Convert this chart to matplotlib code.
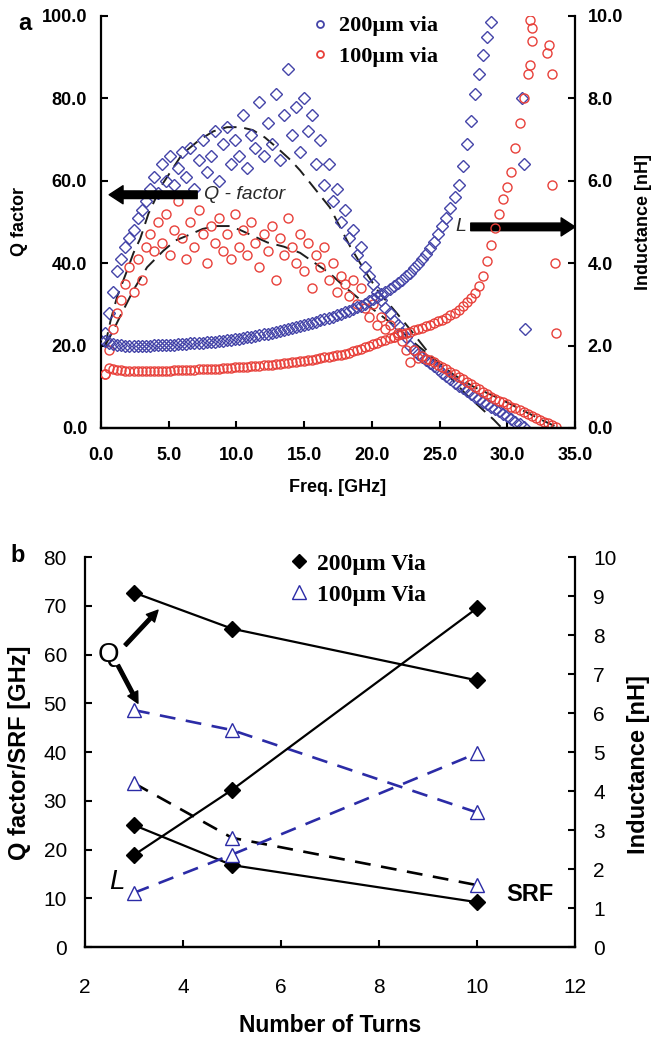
import numpy as np
import matplotlib.pyplot as plt
from matplotlib.lines import Line2D
from matplotlib.ticker import FormatStrFormatter

plt.rcParams['font.family'] = ['Liberation Sans', 'DejaVu Sans']

# ---- panel a: measured sweep (GHz) ----
freq = [0.3, 0.6, 0.9, 1.2, 1.5, 1.8, 2.1, 2.4, 2.7, 3.0,
        3.3, 3.6, 3.9, 4.2, 4.5, 4.8, 5.1, 5.4, 5.7, 6.0,
        6.3, 6.6, 6.9, 7.2, 7.5, 7.8, 8.1, 8.4, 8.7, 9.0,
        9.3, 9.6, 9.9, 10.2, 10.5, 10.8, 11.1, 11.4, 11.7, 12.0,
        12.3, 12.6, 12.9, 13.2, 13.5, 13.8, 14.1, 14.4, 14.7, 15.0,
        15.3, 15.6, 15.9, 16.2, 16.5, 16.8, 17.1, 17.4, 17.7, 18.0,
        18.3, 18.6, 18.9, 19.2, 19.5, 19.8, 20.1, 20.4, 20.7, 21.0,
        21.3, 21.6, 21.9, 22.2, 22.5, 22.8, 23.1, 23.4, 23.7, 24.0,
        24.3, 24.6, 24.9, 25.2, 25.5, 25.8, 26.1, 26.4, 26.7, 27.0,
        27.3, 27.6, 27.9, 28.2, 28.5, 28.8, 29.1, 29.4, 29.7, 30.0,
        30.3, 30.6, 30.9, 31.2, 31.5, 31.8, 32.1, 32.4, 32.7, 33.0,
        33.3, 33.6]
nan = np.nan

# 200um via: Q factor and inductance [nH]
q_200 = [23, 28, 33, 38, 41, 44, 46, 48, 51, 53,
         55, 58, 61, 57, 64, 60, 66, 59, 63, 67,
         61, 68, 58, 65, 70, 62, 66, 72, 60, 69,
         73, 64, 70, 66, 76, 63, 71, 68, 79, 66,
         74, 69, 81, 65, 76, 87, 71, 78, 67, 80,
         72, 76, 64, 70, 59, 64, 55, 58, 50, 53,
         46, 48, 42, 44, 39, 37, 35, 33, 31, 29,
         28, 26, 25, 23, 22, 20, 19, 18, 17.2, 16.6,
         15.8, 15.0, 14.2, 13.4, 12.6, 11.8, 11.0, 10.3, 9.6, 9.0,
         8.2, 7.6, 7.0, 6.4, 5.8, 5.2, 4.6, 4.0, 3.4, 2.8,
         2.2, 1.5, 0.9, 0.3]
l_200 = [2.12, 2.06, 2.03, 2.02, 2.01, 2.0, 2.0, 2.0, 2.0, 2.0,
         2.0, 2.0, 2.01, 2.01, 2.01, 2.02, 2.02, 2.02, 2.03, 2.03,
         2.04, 2.05, 2.05, 2.06, 2.07, 2.08, 2.09, 2.09, 2.1, 2.11,
         2.13, 2.14, 2.15, 2.17, 2.18, 2.2, 2.21, 2.23, 2.25, 2.27,
         2.29, 2.31, 2.33, 2.35, 2.37, 2.39, 2.42, 2.44, 2.47, 2.49,
         2.52, 2.55, 2.58, 2.61, 2.64, 2.67, 2.7, 2.73, 2.77, 2.81,
         2.85, 2.89, 2.93, 2.97, 3.02, 3.07, 3.12, 3.18, 3.24, 3.3,
         3.37, 3.44, 3.52, 3.6, 3.68, 3.77, 3.87, 3.98, 4.1, 4.23,
         4.37, 4.52, 4.7, 4.9, 5.1, 5.35, 5.6, 5.9, 6.35, 6.9,
         7.45, 8.1, 8.6, 9.05, 9.5, 9.85, nan, nan, nan, nan,
         nan, nan, nan, nan]
stray_f_200 = [31.1, 31.2, 31.3]
stray_l_200 = [8.0, 6.4, 2.4]

# 100um via
q_100 = [13, 19, 24, 28, 31, 35, 39, 33, 41, 36,
         44, 47, 43, 50, 45, 52, 42, 48, 55, 46,
         41, 50, 44, 53, 47, 40, 49, 45, 51, 43,
         47, 41, 52, 44, 48, 42, 50, 45, 39, 47,
         43, 49, 36, 46, 42, 51, 44, 40, 47, 38,
         45, 34, 42, 39, 44, 36, 40, 33, 37, 35,
         32, 36, 30, 34, 29, 27, 30, 25, 27, 24,
         25, 22, 23, 21, 19, 16, 19, 17, 17.5, 16.8,
         16.5, 16, 15.2, 14.8, 14.2, 13.6, 13, 12.4, 11.8, 11.2,
         10.6, 10, 9.4, 8.8, 8.2, 7.6, 7.0, 6.6, 6.2, 5.8,
         5.2, 4.8, 4.3, 3.8, 3.3, 2.8, 2.4, 2.0, 1.5, 1.1,
         0.6, 0.2]
l_100 = [1.3, 1.46, 1.43, 1.41, 1.4, 1.39, 1.39, 1.38, 1.38, 1.38,
         1.38, 1.38, 1.38, 1.39, 1.39, 1.39, 1.39, 1.4, 1.4, 1.4,
         1.41, 1.41, 1.41, 1.42, 1.42, 1.43, 1.43, 1.44, 1.44, 1.45,
         1.45, 1.46, 1.47, 1.47, 1.48, 1.49, 1.5, 1.5, 1.51, 1.52,
         1.53, 1.54, 1.55, 1.56, 1.57, 1.58, 1.59, 1.6, 1.62, 1.63,
         1.64, 1.66, 1.67, 1.69, 1.71, 1.72, 1.74, 1.76, 1.78, 1.8,
         1.83, 1.86, 1.89, 1.92, 1.96, 2.0, 2.03, 2.07, 2.1, 2.14,
         2.18, 2.21, 2.25, 2.28, 2.31, 2.34, 2.37, 2.4, 2.43, 2.47,
         2.5, 2.54, 2.59, 2.63, 2.68, 2.73, 2.79, 2.86, 2.97, 3.05,
         3.15, 3.28, 3.45, 3.7, 4.05, 4.45, 4.85, 5.2, 5.55, 5.85,
         6.2, 6.8, 7.4, 8.0, 8.6, 9.4, nan, nan, nan, nan,
         nan, nan]
stray_f_100 = [31.7, 31.8, 31.7, 32.9, 33.1, 33.3, 33.3, 33.5, 33.6]
stray_l_100 = [9.9, 9.7, 8.8, 9.1, 9.3, 8.6, 5.9, 4.0, 2.3]

# fitted Q curves (dashed)
fit_f_200 = [0.3, 0.7, 1.2, 1.9, 2.4, 2.9, 3.5, 4.5, 6.0, 7.3, 8.3, 9.3, 10.3, 11.2,
             12.1, 13.0, 14.0, 14.7, 15.8, 16.9, 18.4, 19.5, 20.5, 21.8, 22.8,
             24.0, 25.0, 26.0, 27.0, 28.0, 29.0, 29.5]
fit_q_200 = [20, 26, 32, 38, 42.5, 46, 52, 59, 66.5, 70, 72, 73, 73, 72.3,
             70.5, 68, 65, 62.5, 58, 53.5, 44, 38, 33, 28, 24,
             19, 15, 11.5, 8, 5, 2, 0.3]
fit_f_100 = [0.3, 0.8, 1.4, 2.4, 3.4, 4.6, 5.5, 6.6, 7.5, 8.5, 9.5, 10.3, 11.3, 12.3,
             13.5, 14.7, 15.8, 16.9, 17.9, 19.0, 20.0, 21.0, 22.0, 23.0, 24.5,
             26.0, 27.5, 29.5, 31.0, 32.5, 33.6]
fit_q_100 = [20, 23, 27, 33.5, 39, 43, 45.5, 47, 48.3, 49, 49, 48, 46.5, 45,
             44, 42.5, 40, 37.5, 34.5, 31.5, 29, 26.5, 24, 21, 17,
             13, 10, 7, 4.5, 2, 0.3]

# ---- panel b ----
turns = [3, 5, 10]
q_200_b = [72.7, 65.3, 54.7]
srf_200_b = [25.0, 16.8, 9.2]
l_200_b = [2.36, 4.03, 8.69]
q_100_b = [48.6, 44.5, 27.6]
srf_100_b = [33.6, 22.4, 12.7]
l_100_b = [1.39, 2.37, 4.97]

BLUE = '#4444a8'
RED = '#e8403a'
NAVY = '#2b2ba6'
n200 = len(q_200)

fig = plt.figure(figsize=(6.56, 10.4), dpi=100)


def style_axes(ax, axr, bold, size, xpad, ypad, rpad):
    for a in (ax, axr):
        for s in a.spines.values():
            s.set_linewidth(1.6)
        a.spines['top'].set_visible(False)
    ax.spines['right'].set_visible(False)
    axr.spines['left'].set_visible(False)
    w = 'bold' if bold else 'normal'
    ax.tick_params(axis='x', direction='in', length=5, width=1.5, pad=xpad, labelsize=size)
    ax.tick_params(axis='y', direction='in', length=5, width=1.5, pad=ypad, labelsize=size)
    axr.tick_params(axis='y', direction='in', length=5, width=1.5, pad=rpad, labelsize=size)
    for lab in ax.get_xticklabels() + ax.get_yticklabels() + axr.get_yticklabels():
        lab.set_fontweight(w)


# ---------------- panel a ----------------
ax1 = fig.add_axes([0.154, 0.5885, 0.7226, 0.3962])
ax1r = ax1.twinx()

dia = dict(ls='none', marker='D', ms=6, mfc='none', mec=BLUE, mew=1.0)
circ = dict(ls='none', marker='o', ms=6.5, mfc='none', mec=RED, mew=1.0)

ax1.plot(fit_f_200, fit_q_200, color='#1e1e1e', lw=1.4, dashes=(7, 4))
ax1.plot(fit_f_100, fit_q_100, color='#1e1e1e', lw=1.4, dashes=(7, 4))
ax1.plot(freq[:n200], q_200, **dia)
ax1.plot(freq, q_100, **circ)
ax1r.plot(freq[:n200], l_200, **dia)
ax1r.plot(stray_f_200, stray_l_200, **dia)
ax1r.plot(freq, l_100, **circ)
ax1r.plot(stray_f_100, stray_l_100, **circ)

ax1.set_xlim(0, 35)
ax1.set_ylim(0, 100)
ax1r.set_ylim(0, 10)
ax1.set_xticks(np.arange(0, 36, 5))
ax1.set_yticks(np.arange(0, 101, 20))
ax1r.set_yticks(np.arange(0, 11, 2))
for a in (ax1.xaxis, ax1.yaxis, ax1r.yaxis):
    a.set_major_formatter(FormatStrFormatter('%.1f'))
style_axes(ax1, ax1r, True, 13, 14, 10, 9)

ax1.annotate('', xy=(0.6, 56.6), xytext=(7.1, 56.6),
             arrowprops=dict(facecolor='black', edgecolor='black', width=5.5, headwidth=13, headlength=10))
ax1.text(7.6, 56.6, 'Q - factor', style='italic', fontsize=14, color='#2a2a2a', va='center')
ax1.annotate('', xy=(35.0, 48.8), xytext=(27.3, 48.8),
             arrowprops=dict(facecolor='black', edgecolor='black', width=5.5, headwidth=13, headlength=10))
ax1.text(26.6, 48.8, 'L', style='italic', fontsize=14, color='#2a2a2a', va='center', ha='center')

leg_a = [Line2D([], [], ls='none', marker='o', ms=5, mfc='none', mec=BLUE, mew=1.3),
         Line2D([], [], ls='none', marker='o', ms=5, mfc='none', mec=RED, mew=1.3)]
ax1.legend(leg_a, ['200µm via', '100µm via'], loc='upper left', bbox_to_anchor=(0.45, 1.0),
           frameon=False, handlelength=0.5, handletextpad=0.6, borderpad=0, borderaxespad=0,
           labelspacing=0.45, prop=dict(family='Liberation Serif', weight='bold', size=16))

fig.text(20 / 656, 1 - 222 / 1040, 'Q factor', rotation=90, ha='center', va='center',
         fontsize=13, fontweight='bold')
fig.text(644 / 656, 1 - 222 / 1040, 'Inductance [nH]', rotation=90, ha='center', va='center',
         fontsize=13, fontweight='bold')
fig.text(338 / 656, 1 - 488 / 1040, 'Freq. [GHz]', ha='center', va='center',
         fontsize=13, fontweight='bold')
fig.text(25 / 656, 1 - 23 / 1040, 'a', ha='center', va='center', fontsize=17, fontweight='bold')

# ---------------- panel b ----------------
ax2 = fig.add_axes([0.1296, 0.0894, 0.747, 0.375])
ax2r = ax2.twinx()

ax2.plot(turns, q_200_b, color='black', lw=1.6, marker='D', ms=8)
ax2.plot(turns, srf_200_b, color='black', lw=1.6, marker='D', ms=8)
ax2r.plot(turns, l_200_b, color='black', lw=1.6, marker='D', ms=8)
ax2.plot(turns, q_100_b, color=NAVY, lw=1.9, dashes=(6, 4), marker='^', ms=10,
         mfc='white', mec=NAVY, mew=1.0)
ax2.plot(turns, srf_100_b, color='black', lw=1.9, dashes=(6, 4), marker='^', ms=10,
         mfc='white', mec=NAVY, mew=1.0)
ax2r.plot(turns, l_100_b, color=NAVY, lw=1.9, dashes=(6, 4), marker='^', ms=10,
          mfc='white', mec=NAVY, mew=1.0)

ax2.set_xlim(2, 12)
ax2.set_ylim(0, 80)
ax2r.set_ylim(0, 10)
ax2.set_xticks(np.arange(2, 13, 2))
ax2.set_yticks(np.arange(0, 81, 10))
ax2r.set_yticks(np.arange(0, 11, 1))
style_axes(ax2, ax2r, False, 15, 22, 13, 13)

ax2.text(2.47, 59.9, 'Q', fontsize=20, ha='center', va='center')
ax2.annotate('', xy=(3.49, 69.1), xytext=(2.82, 61.9),
             arrowprops=dict(facecolor='black', edgecolor='black', width=2.5, headwidth=8, headlength=8))
ax2.annotate('', xy=(3.08, 50.0), xytext=(2.67, 57.8),
             arrowprops=dict(facecolor='black', edgecolor='black', width=2.5, headwidth=8, headlength=8))
ax2.text(2.65, 13.3, 'L', style='italic', fontsize=20, ha='center', va='center')
ax2.text(11.08, 10.7, 'SRF', fontsize=17, fontweight='bold', ha='center', va='center')

leg_b = [Line2D([], [], ls='none', marker='D', ms=7, color='black'),
         Line2D([], [], ls='none', marker='^', ms=10, mfc='white', mec=NAVY, mew=1.0)]
ax2.legend(leg_b, ['200µm Via', '100µm Via'], loc='upper left', bbox_to_anchor=(0.425, 1.01),
           frameon=False, handlelength=0.5, handletextpad=0.5, borderpad=0, borderaxespad=0,
           labelspacing=0.4, prop=dict(family='Liberation Serif', weight='bold', size=17))

fig.text(20 / 656, 1 - 753 / 1040, 'Q factor/SRF [GHz]', rotation=90, ha='center', va='center',
         fontsize=17, fontweight='bold')
fig.text(638 / 656, 1 - 765 / 1040, 'Inductance [nH]', rotation=90, ha='center', va='center',
         fontsize=17, fontweight='bold')
fig.text(330 / 656, 1 - 1026 / 1040, 'Number of Turns', ha='center', va='center',
         fontsize=16.5, fontweight='bold')
fig.text(18 / 656, 1 - 555 / 1040, 'b', ha='center', va='center', fontsize=17, fontweight='bold')

fig.savefig('out.png', dpi=100)
